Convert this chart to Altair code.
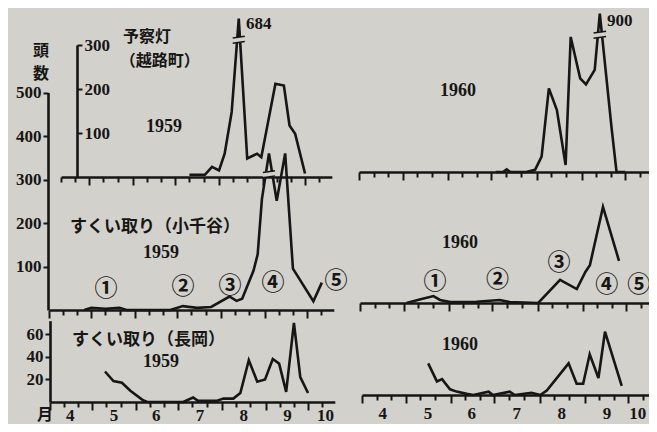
import altair as alt
import pandas as pd

W, H = 641, 416
BG = "#d3d1cb"
INK = "#161616"
SERIF = "Liberation Serif"
CJK = "Noto Sans CJK JP"

# ---------------- data ----------------
# x values are day-of-year: 1 Apr = 91, 1 May = 121, 1 Jun = 152, 1 Jul = 182, 1 Aug = 213, 1 Sep = 244, 1 Oct = 274
MONTH_START = [91, 121, 152, 182, 213, 244, 274]
DEKAD_TICKS = [101, 111, 131, 141, 162, 172, 192, 202, 223, 233, 254, 264, 284, 294]
MONTH_LABELS = ["4", "5", "6", "7", "8", "9", "10"]
MONTH_LABEL_DAYS = [105, 136, 166, 197, 228, 259, 286]

# 予察灯（越路町）
trap_1959_day = [192, 197, 203, 208, 213, 217, 222, 227, 233, 240, 243, 253, 259, 263, 267, 274]
trap_1959_val = [5, 5, 5, 23, 15, 53, 148, 684, 42, 53, 45, 212, 208, 117, 98, 8]
trap_1960_day = [185, 190, 192.5, 195, 206, 212, 216.5, 221.5, 227, 233, 236.5, 243, 247, 253, 256.5, 264.5, 268, 274]
trap_1960_val = [0, 0, 6, 0, 0, 5, 35, 190, 141, 16, 307, 213, 199, 232, 900, 103, 0, 0]

# すくい取り（小千谷）
ojiya_1959_day = [116, 121, 131, 141, 146, 177, 186, 196, 206, 219, 224, 228, 236, 239, 242, 247,
                  252.5, 258.5, 264, 278.5, 284.5]
ojiya_1959_val = [0, 5, 3, 5, 0, 0, 9, 5, 7, 31, 21, 26, 90, 128, 255, 490, 251, 368, 95, 20, 63]
ojiya_1960_day = [123, 132, 141.5, 146, 153, 171, 187, 194, 213.5, 228.5, 240, 246, 249, 258, 269]
ojiya_1960_val = [0, 8, 16, 7, 2, 3, 7, 2, 0, 53, 32, 72, 87, 221, 97]

# すくい取り（長岡）
nagaoka_1959_day = [130, 136, 142, 148, 157, 160, 185.5, 192.5, 196, 209, 214, 221, 226, 232, 238,
                    243.5, 249, 253.5, 258.5, 264, 268.5, 274]
nagaoka_1959_val = [27, 18.5, 17, 10, 1.5, 0, 0, 4, 1, 1, 3, 3, 8, 37, 18, 20, 38, 34, 9, 70, 22, 8]
nagaoka_1960_day = [136.5, 142.5, 146, 151.5, 156, 163, 167.5, 178, 181, 192.5, 196, 207.5, 213.5,
                    218, 233, 238.5, 243, 247.5, 253.5, 258, 269.5]
nagaoka_1960_val = [28, 12, 14, 5, 3, 1, 0, 3, 0, 3, 0, 2, 0, 4, 28, 10, 10, 36, 15, 56, 8]

# annotations (panel, text, day, value)
titles = [("tl", "予察灯", 161.9, 318), ("tl", "（越路町）", 171, 264),
          ("ml", "頭", 85.3, 596), ("ml", "数", 85.3, 542), ("bl", "月", 87.5, -11.5)]
titles_left = [("ml", "すくい取り（小千谷）", 105.9, 191), ("bl", "すくい取り（長岡）", 106.6, 55)]
years = [("tl", "1959", 174, 114), ("ml", "1959", 170.4, 131), ("bl", "1959", 169.7, 35.4),
         ("tr", "1960", 159, 184), ("mr", "1960", 159.7, 139), ("br", "1960", 158.4, 44)]
peaks = [("tl", "684", 232.1, 348), ("tr", "900", 261.4, 343)]
circled = [("ml", "①", 131.4, 48), ("ml", "②", 186, 52), ("ml", "③", 219.4, 55),
           ("ml", "④", 249.9, 62), ("ml", "⑤", 294.5, 67),
           ("mr", "①", 142.5, 49), ("mr", "②", 185.5, 53), ("mr", "③", 227.8, 92),
           ("mr", "④", 260.6, 41), ("mr", "⑤", 282.5, 41)]

CAP = 360          # drawn height of the broken (off-scale) peaks
BREAK_LEVEL = 312  # where the axis break mark sits on the peak

# ---------------- panel geometry (page pixels) ----------------
GEOM = {
    "tl": dict(apr1=47, ppd=1.41, d0=101, d1=293, base=177, k=0.44, ymax=300),
    "ml": dict(apr1=49, ppd=1.41, d0=91, d1=293, base=310, k=0.435, ymax=500),
    "bl": dict(apr1=50, ppd=1.41, d0=91, d1=293, base=402, k=1.13, ymax=72),
    "tr": dict(apr1=359, ppd=1.455, d0=91, d1=304, base=172, k=0.44, ymax=300),
    "mr": dict(apr1=360, ppd=1.455, d0=91, d1=304, base=303, k=0.435, ymax=500),
    "br": dict(apr1=362, ppd=1.455, d0=91, d1=304, base=395, k=1.13, ymax=72),
}
LABEL_PAD = {"bl": 13, "br": 18}


def xscale(p):
    g = GEOM[p]
    r0 = g["apr1"] + (g["d0"] - 91) * g["ppd"] - 8
    r1 = g["apr1"] + (g["d1"] - 91) * g["ppd"] - 8
    return alt.Scale(domain=[g["d0"], g["d1"]], range=[r0, r1], nice=False, zero=False)


def yscale(p):
    g = GEOM[p]
    return alt.Scale(domain=[0, g["ymax"]],
                     range=[g["base"] - 8, g["base"] - g["ymax"] * g["k"] - 8], nice=False)


def X(p, field="day"):
    return alt.X(f"{field}:Q", scale=xscale(p), axis=None)


def Y(p, field="value"):
    return alt.Y(f"{field}:Q", scale=yscale(p), axis=None)


layers = []

# ---- x axes (major ticks, minor ticks, month labels) ----
label_expr = " : ".join(f"datum.value == {d} ? '{t}'" for d, t in zip(MONTH_LABEL_DAYS, MONTH_LABELS)) + " : ''"
for p, g in GEOM.items():
    off = g["base"] - 8 - H
    major = [d for d in MONTH_START if g["d0"] <= d <= g["d1"]]
    minor = [d for d in DEKAD_TICKS if g["d0"] <= d <= g["d1"]]
    layers.append(alt.Chart(pd.DataFrame({"day": major})).mark_point(opacity=0).encode(
        x=alt.X("day:Q", scale=xscale(p), axis=alt.Axis(
            orient="bottom", offset=off, values=major, tickSize=8, tickWidth=2, tickColor=INK,
            domainWidth=2.6, domainColor=INK, labels=False, grid=False, title=None))))
    layers.append(alt.Chart(pd.DataFrame({"day": minor})).mark_point(opacity=0).encode(
        x=alt.X("day:Q", scale=xscale(p), axis=alt.Axis(
            orient="bottom", offset=off, values=minor, tickSize=5, tickWidth=2, tickColor=INK,
            domain=False, labels=False, grid=False, title=None))))
    if p in LABEL_PAD:
        align = "center"
        if p == "br":  # last label sits at the page edge: keep it inside
            align = {"condition": {"test": f"datum.value == {MONTH_LABEL_DAYS[-1]}", "value": "right"},
                     "value": "center"}
        layers.append(alt.Chart(pd.DataFrame({"day": MONTH_LABEL_DAYS})).mark_point(opacity=0).encode(
            x=alt.X("day:Q", scale=xscale(p), axis=alt.Axis(
                orient="bottom", offset=off, values=MONTH_LABEL_DAYS, labelExpr=label_expr,
                ticks=False, tickSize=0, domain=False, labelPadding=LABEL_PAD[p],
                labelAlign=align, labelBaseline="middle", labelFont=SERIF, labelFontSize=17,
                labelFontWeight="bold", labelColor=INK, labelOverlap=False, labelFlush=False,
                grid=False, title=None))))

# ---- y axes ----
def y_axis(p, orient, xpos, values):
    off = -(xpos - 8) if orient == "left" else (xpos - 8) - W
    return alt.Chart(pd.DataFrame({"v": values})).mark_point(opacity=0).encode(
        y=alt.Y("v:Q", scale=yscale(p), axis=alt.Axis(
            orient=orient, offset=off, values=values, tickSize=5, tickWidth=2, tickColor=INK,
            domainWidth=2.6, domainColor=INK, labelFont=SERIF, labelFontSize=17,
            labelFontWeight="bold", labelColor=INK, labelPadding=2, labelOverlap=False,
            labelFlush=False, grid=False, title=None)))


layers.append(y_axis("tl", "right", 77, [100, 200, 300]))
layers.append(y_axis("ml", "left", 48, [100, 200, 300, 400, 500]))
layers.append(y_axis("bl", "left", 50, [20, 40, 60]))

# ---- series ----
series = [("tl", trap_1959_day, trap_1959_val), ("tr", trap_1960_day, trap_1960_val),
          ("ml", ojiya_1959_day, ojiya_1959_val), ("mr", ojiya_1960_day, ojiya_1960_val),
          ("bl", nagaoka_1959_day, nagaoka_1959_val), ("br", nagaoka_1960_day, nagaoka_1960_val)]
for p, days, vals in series:
    df = pd.DataFrame({"day": days, "value": vals})
    df["shown"] = df["value"].clip(upper=CAP)
    layers.append(alt.Chart(df).mark_line(color=INK, strokeWidth=2.6).encode(
        x=X(p), y=Y(p, "shown")))
    if df["value"].max() > CAP:
        pk = float(df.loc[df["value"].idxmax(), "day"])
        gap = pd.DataFrame({"x": [pk - 4.3], "x2": [pk + 4.3],
                            "y": [BREAK_LEVEL - 6], "y2": [BREAK_LEVEL + 6]})
        layers.append(alt.Chart(gap).mark_rect(color=BG).encode(
            x=X(p, "x"), x2="x2:Q", y=Y(p, "y"), y2="y2:Q"))
        marks = pd.DataFrame({"x": [pk - 4.3, pk - 4.3], "x2": [pk + 4.3, pk + 4.3],
                              "y": [BREAK_LEVEL - 8, BREAK_LEVEL + 4],
                              "y2": [BREAK_LEVEL - 4, BREAK_LEVEL + 8]})
        layers.append(alt.Chart(marks).mark_rule(color=INK, strokeWidth=1.6).encode(
            x=X(p, "x"), x2="x2:Q", y=Y(p, "y"), y2="y2:Q"))


# ---- text ----
def text_layer(rows, font, size, weight, align):
    out = []
    for p in GEOM:
        sub = [r for r in rows if r[0] == p]
        if not sub:
            continue
        df = pd.DataFrame({"text": [r[1] for r in sub], "day": [r[2] for r in sub],
                           "value": [r[3] for r in sub]})
        out.append(alt.Chart(df).mark_text(font=font, fontSize=size, fontWeight=weight, align=align,
                                           baseline="middle", color=INK).encode(
            x=X(p), y=Y(p), text="text:N"))
    return out


layers += text_layer(titles, CJK, 16, "bold", "center")
layers += text_layer(titles_left, CJK, 17, "bold", "left")
layers += text_layer(years, SERIF, 18, "bold", "center")
layers += text_layer(peaks, SERIF, 17, "bold", "left")
layers += text_layer(circled, CJK, 23, "bold", "center")

chart = alt.layer(*layers).resolve_scale(x="independent", y="independent").resolve_axis(
    x="independent", y="independent").properties(
    width=W, height=H, background=BG, padding=0,
    autosize=alt.AutoSizeParams(type="none")).configure_view(stroke=None)

chart.save("out.html", embed_options={"renderer": "svg", "actions": False})
